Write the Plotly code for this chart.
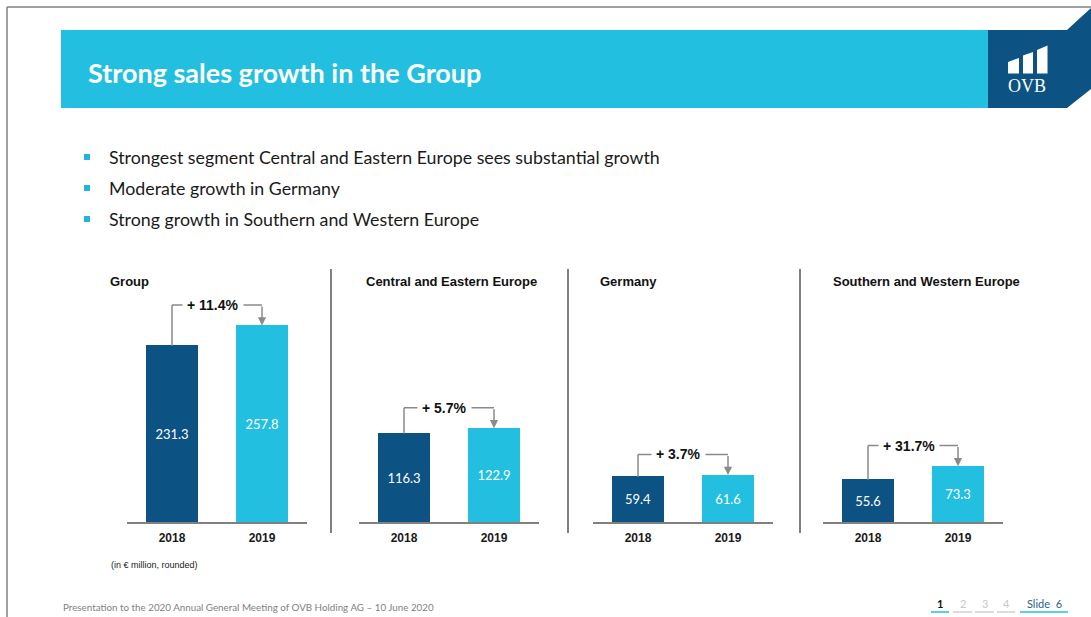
import plotly.graph_objects as go

W, H = 1091, 617

# ---------------- data ----------------
segments = ["Group", "Central and Eastern Europe", "Germany", "Southern and Western Europe"]
years = ["2018", "2019"]
sales_2018 = [231.3, 116.3, 59.4, 55.6]
sales_2019 = [257.8, 122.9, 61.6, 73.3]
growth_pct = [11.4, 5.7, 3.7, 31.7]

title_text = "Strong sales growth in the Group"
bullets = [
    "Strongest segment Central and Eastern Europe sees substantial growth",
    "Moderate growth in Germany",
    "Strong growth in Southern and Western Europe",
]
unit_note = "(in € million, rounded)"
footer_text = "Presentation to the 2020 Annual General Meeting of OVB Holding AG – 10 June 2020"
page_labels = ["1", "2", "3", "4", "Slide  6"]

# ---------------- styles ----------------
DARK = "#0c5282"
CYAN = "#22bfe0"
GRAY = "#808080"
ARROW_GRAY = "#8a8a8a"
SANS = "Liberation Sans, Arial, sans-serif"
BODY = "Lato, Open Sans, sans-serif"


def px(x):
    return x / W


def py(y):
    return 1 - y / H


# subplot domains in pixels
x_domains_px = [(127, 307), (359, 539), (593, 773), (823, 1003)]
baseline_px = 522
scale = 0.762  # px per unit
y_max = 300
y_top_px = baseline_px - y_max * scale
bracket_gap = 27  # units above 2019 bar

fig = go.Figure()

shapes = []
annotations = []

for i, seg in enumerate(segments):
    xa = "x" if i == 0 else f"x{i+1}"
    ya = "y" if i == 0 else f"y{i+1}"
    vals = [sales_2018[i], sales_2019[i]]
    fig.add_trace(go.Bar(
        x=[0, 1], y=vals,
        xaxis=xa, yaxis=ya,
        marker=dict(color=[DARK, CYAN], line=dict(width=0)),
        width=0.567,
        texttemplate="%{y:.1f}",
        textposition="inside",
        insidetextanchor="middle",
        textangle=0,
        textfont=dict(color="white", size=13, family=BODY),
        hoverinfo="skip",
        showlegend=False,
    ))
    d = x_domains_px[i]
    fig.update_layout(**{
        ("xaxis" if i == 0 else f"xaxis{i+1}"): dict(
            domain=[px(d[0]), px(d[1])], range=[-0.5, 1.5],
            anchor=ya, tickvals=[0, 1], ticktext=years,
            showline=True, linecolor=GRAY, linewidth=2,
            showgrid=False, zeroline=False, ticks="",
            ticklabelstandoff=4,
            tickfont=dict(family=SANS, size=12, color="#1a1a1a", weight="bold"),
            fixedrange=True,
        ),
        ("yaxis" if i == 0 else f"yaxis{i+1}"): dict(
            domain=[py(baseline_px), py(y_top_px)], range=[0, y_max],
            anchor=xa, visible=False, showgrid=False, fixedrange=True,
        ),
    })
    # bracket
    lvl = sales_2019[i] + bracket_gap
    xr, yr = xa, ya
    shapes.append(dict(type="line", xref=xr, yref=yr, x0=0, x1=0,
                       y0=sales_2018[i], y1=lvl,
                       line=dict(color=ARROW_GRAY, width=1.5)))
    shapes.append(dict(type="line", xref=xr, yref=yr, x0=0, x1=1,
                       y0=lvl, y1=lvl,
                       line=dict(color=ARROW_GRAY, width=1.5)))
    annotations.append(dict(xref=xr, yref=yr, x=1, y=sales_2019[i],
                            ax=1, ay=lvl, axref=xr, ayref=yr,
                            showarrow=True, arrowhead=2, arrowsize=1.1,
                            arrowwidth=1.5, arrowcolor=ARROW_GRAY, standoff=0,
                            text=""))
    annotations.append(dict(xref=xr, yref=yr, x=0.45, y=lvl,
                            text=f"+ {growth_pct[i]:.1f}%", showarrow=False,
                            bgcolor="white", borderpad=4,
                            font=dict(family=SANS, size=14, color="#111111", weight="bold")))

# segment titles
title_x_px = [108, 364, 598, 831]
for i, seg in enumerate(segments):
    annotations.append(dict(xref="paper", yref="paper", x=px(title_x_px[i]), y=py(281),
                            xanchor="left", yanchor="middle", text=seg, showarrow=False,
                            font=dict(family=SANS, size=13, color="#111111", weight="bold")))

# separators
for sx in [331, 568, 800]:
    shapes.append(dict(type="line", xref="paper", yref="paper",
                       x0=px(sx), x1=px(sx), y0=py(269), y1=py(533),
                       line=dict(color=GRAY, width=2)))

# slide frame
shapes.append(dict(type="line", xref="paper", yref="paper", x0=px(7), x1=1,
                   y0=py(7), y1=py(7), line=dict(color=GRAY, width=1.5)))
shapes.append(dict(type="line", xref="paper", yref="paper", x0=px(7), x1=px(7),
                   y0=py(7), y1=0, line=dict(color=GRAY, width=1.5)))

# title band
shapes.append(dict(type="rect", xref="paper", yref="paper", x0=px(61), x1=px(989),
                   y0=py(108), y1=py(30), fillcolor=CYAN, line=dict(width=0), layer="below"))


def path(points):
    s = "M " + " L ".join(f"{px(x):.5f},{py(y):.5f}" for x, y in points) + " Z"
    return s


shapes.append(dict(type="path", xref="paper", yref="paper",
                   path=path([(988, 30), (1067, 30), (1091, 8), (1091, 89), (1067, 108), (988, 108)]),
                   fillcolor=DARK, line=dict(width=0)))
# logo bars
for (x0, x1, ytl, ytr) in [(1008, 1019, 62, 58), (1023, 1033, 55.5, 52), (1037, 1047.5, 50, 45.5)]:
    shapes.append(dict(type="path", xref="paper", yref="paper",
                       path=path([(x0, 73.5), (x0, ytl), (x1, ytr), (x1, 73.5)]),
                       fillcolor="white", line=dict(width=0)))
annotations.append(dict(xref="paper", yref="paper", x=px(1027), y=py(86),
                        text="OVB", showarrow=False, xanchor="center", yanchor="middle",
                        font=dict(family="Liberation Serif, Times New Roman, serif", size=18, color="white")))

annotations.append(dict(xref="paper", yref="paper", x=px(86), y=py(72),
                        text=title_text, showarrow=False, xanchor="left", yanchor="middle",
                        font=dict(family=BODY, size=27, color="white", weight="bold")))

# bullets
for k, b in enumerate(bullets):
    yc = 157 + 31 * k
    shapes.append(dict(type="rect", xref="paper", yref="paper",
                       x0=px(84), x1=px(90), y0=py(yc + 3), y1=py(yc - 3),
                       fillcolor="#1fb4e4", line=dict(width=0)))
    annotations.append(dict(xref="paper", yref="paper", x=px(107), y=py(yc),
                            text=b, showarrow=False, xanchor="left", yanchor="middle",
                            font=dict(family=BODY, size=17.8, color="#1a1a1a")))

annotations.append(dict(xref="paper", yref="paper", x=px(109), y=py(565),
                        text=unit_note, showarrow=False, xanchor="left", yanchor="middle",
                        font=dict(family=SANS, size=9, color="#1a1a1a")))

annotations.append(dict(xref="paper", yref="paper", x=px(61), y=py(607),
                        text=footer_text, showarrow=False, xanchor="left", yanchor="middle",
                        font=dict(family=BODY, size=9.8, color="#7f7f7f")))

# pagination
page_centers = [940, 962.5, 985, 1006, 1044]
page_under = [(931, 949), (953, 972), (975, 994), (997, 1015), (1020, 1068)]
page_colors = ["#111111", "#c8c8c8", "#c8c8c8", "#c8c8c8", "#2a5d8f"]
under_colors = [CYAN, "#d0d0d0", "#d0d0d0", "#d0d0d0", CYAN]
for k, lab in enumerate(page_labels):
    annotations.append(dict(xref="paper", yref="paper", x=px(page_centers[k]), y=py(603),
                            text=lab, showarrow=False, xanchor="center", yanchor="middle",
                            font=dict(family=BODY, size=11, color=page_colors[k],
                                      weight="bold" if k == 0 else "normal")))
    u0, u1 = page_under[k]
    shapes.append(dict(type="line", xref="paper", yref="paper",
                       x0=px(u0), x1=px(u1), y0=py(612), y1=py(612),
                       line=dict(color=under_colors[k], width=1.5)))

fig.update_layout(
    width=W, height=H,
    margin=dict(l=0, r=0, t=0, b=0),
    paper_bgcolor="white", plot_bgcolor="white",
    shapes=shapes, annotations=annotations,
    bargap=0, showlegend=False,
)

fig.write_html("out.html", config={"displayModeBar": False},
               post_script="document.body.style.margin='0';document.body.style.overflow='hidden';")
